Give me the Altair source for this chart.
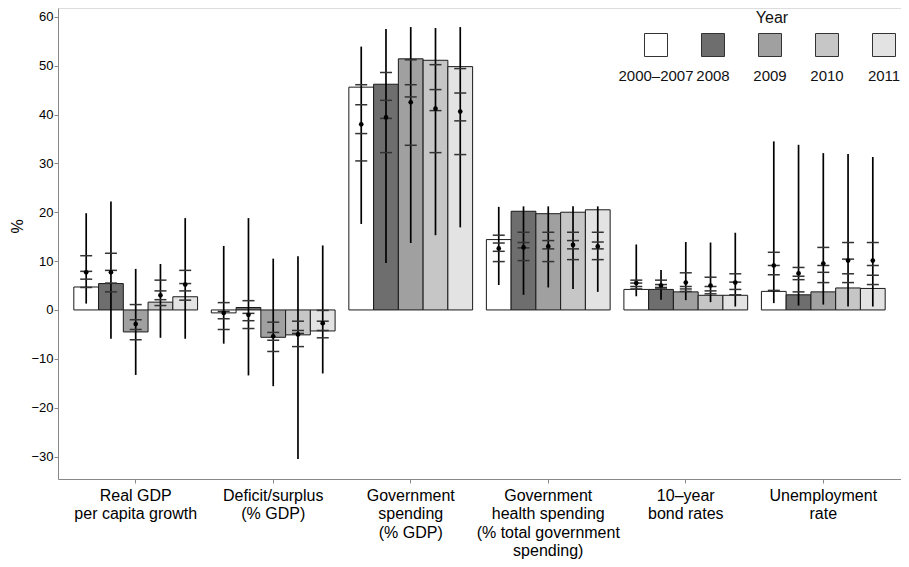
import altair as alt
import pandas as pd

FONT = "Liberation Sans, Arial, sans-serif"

categories = [
    "Real GDP|per capita growth",
    "Deficit/surplus|(% GDP)",
    "Government|spending|(% GDP)",
    "Government|health spending|(% total government|spending)",
    "10–year|bond rates",
    "Unemployment|rate",
]
years = ["2000–2007", "2008", "2009", "2010", "2011"]
colors = ["#ffffff", "#6e6e6e", "#a0a0a0", "#c6c6c6", "#e3e3e3"]

# bar heights per category, by year
bar_values = [
    [4.7, 5.4, -4.5, 1.6, 2.7],
    [-0.6, 0.5, -5.6, -5.1, -4.3],
    [45.6, 46.2, 51.4, 51.1, 49.8],
    [14.4, 20.2, 19.7, 20.0, 20.5],
    [4.2, 4.2, 3.7, 3.0, 3.0],
    [3.8, 3.1, 3.7, 4.5, 4.4],
]
mean_values = [
    [7.7, 7.7, -2.9, 3.0, 5.2],
    [-0.6, -1.0, -5.4, -5.0, -2.7],
    [38.0, 39.4, 42.5, 41.2, 40.6],
    [12.6, 12.8, 13.0, 13.3, 13.0],
    [5.5, 5.0, 5.6, 5.0, 5.6],
    [9.1, 7.5, 9.5, 10.1, 10.1],
]
range_low = [
    [1.3, -5.9, -13.3, -5.7, -5.9],
    [-6.9, -13.4, -15.6, -30.5, -13.0],
    [17.6, 9.6, 13.7, 15.3, 16.9],
    [5.1, 3.1, 4.6, 4.3, 3.7],
    [2.8, 2.1, 2.0, 1.6, 0.7],
    [1.4, 0.9, 1.1, 0.7, 0.7],
]
range_high = [
    [19.8, 22.2, 8.4, 9.4, 18.8],
    [13.1, 18.8, 10.5, 11.0, 13.2],
    [53.9, 57.5, 57.9, 57.7, 57.9],
    [21.1, 21.2, 21.2, 21.2, 21.2],
    [13.4, 8.2, 13.9, 13.8, 15.8],
    [34.5, 33.8, 32.1, 31.9, 31.3],
]
# horizontal tick marks on each error line
tick_values = [
    [[11.1, 7.9, 6.3, 4.6], [11.6, 8.1, 5.5, 3.7], [1.1, -2.0, -4.0, -6.1],
     [6.1, 3.9, 2.1, 0.9], [8.1, 5.4, 3.9, 2.0]],
    [[1.5, -0.3, -1.8, -4.0], [1.9, -0.7, -2.2, -3.8], [-2.5, -4.6, -6.2, -8.5],
     [-2.3, -4.2, -4.8, -7.5], [-0.1, -2.3, -4.2, -5.7]],
    [[46.1, 42.0, 36.1, 30.5], [48.6, 42.9, 39.2, 32.2], [51.2, 46.1, 43.6, 33.7],
     [50.2, 45.1, 40.8, 32.2], [49.4, 44.4, 38.7, 31.8]],
    [[15.3, 13.7, 12.0, 9.9], [15.9, 13.8, 12.7, 10.1], [15.9, 14.2, 12.5, 9.9],
     [15.9, 14.2, 12.5, 10.3], [15.9, 13.9, 12.5, 10.3]],
    [[6.1, 5.5, 4.8, 4.3], [6.1, 5.2, 4.6, 4.3], [7.6, 4.8, 4.3, 3.8],
     [6.7, 4.8, 3.9, 3.3], [7.4, 5.7, 4.2, 3.1]],
    [[11.8, 9.1, 7.2, 4.0], [8.7, 6.9, 6.2, 3.7], [12.8, 9.1, 7.7, 5.6],
     [13.8, 10.4, 7.4, 5.6], [13.8, 9.1, 7.1, 5.2]],
]
y_ticks = list(range(-30, 61, 5))

rows, trows = [], []
for ci, c in enumerate(categories):
    for yi, yr in enumerate(years):
        rows.append(dict(cat=c, year=yr, bar=bar_values[ci][yi], mean=mean_values[ci][yi],
                         lo=range_low[ci][yi], hi=range_high[ci][yi]))
        for t in tick_values[ci][yi]:
            trows.append(dict(cat=c, year=yr, t=t))
df = pd.DataFrame(rows)
tdf = pd.DataFrame(trows)
ldf = pd.DataFrame({"year": years})
title_df = pd.DataFrame({"t": ["Year"]})

yscale = alt.Scale(domain=[-34.6, 61.8], nice=False, zero=False)
fill_scale = alt.Scale(domain=years, range=colors)

X = alt.X("cat:N", sort=categories,
          scale=alt.Scale(paddingInner=0.1, paddingOuter=0.115),
          axis=alt.Axis(title=None, labelAngle=0, labelExpr="split(datum.label, '|')",
                        labelFontSize=16, labelLineHeight=18.5, labelLimit=0,
                        labelPadding=4, labelBaseline="top", tickSize=4))
XO = alt.XOffset("year:N", sort=years, scale=alt.Scale(paddingInner=0, paddingOuter=0))

bars = alt.Chart(df).mark_bar(stroke="#1a1a1a", strokeWidth=1).encode(
    x=X, xOffset=XO,
    y=alt.Y("bar:Q", scale=yscale,
            axis=alt.Axis(title="%", values=y_ticks, tickSize=4, labelPadding=1,
                          labelFontSize=13, titleFontSize=16, titleFontWeight="normal",
                          titleX=-41, titleY=218, titleBaseline="middle", grid=False)),
    y2=alt.Y2(datum=0),
    fill=alt.Fill("year:N", scale=fill_scale, legend=None),
)

rules = alt.Chart(df).mark_rule(color="#000000", strokeWidth=1.7).encode(
    x=X, xOffset=XO, y=alt.Y("lo:Q", scale=yscale), y2="hi:Q")

ticks = alt.Chart(tdf).mark_tick(orient="horizontal", size=12, thickness=1.5,
                                 color="#333333", opacity=1).encode(
    x=X, xOffset=XO, y=alt.Y("t:Q", scale=yscale))

points = alt.Chart(df).mark_point(filled=True, size=22, color="#000000", opacity=1).encode(
    x=X, xOffset=XO, y=alt.Y("mean:Q", scale=yscale))

main = alt.layer(bars, rules, ticks, points)

LX = alt.X("year:N", sort=years,
           scale=alt.Scale(type="point", domain=years, range=[598, 826], padding=0),
           axis=None)
leg_sq = alt.Chart(ldf).mark_square(size=529, stroke="#333333", strokeWidth=1, opacity=1).encode(
    x=LX, y=alt.value(37), fill=alt.Fill("year:N", scale=fill_scale, legend=None))
leg_txt = alt.Chart(ldf).mark_text(fontSize=15, font=FONT, baseline="middle",
                                   color="#111111").encode(
    x=LX, y=alt.value(68), text="year:N")
leg_title = alt.Chart(title_df).mark_text(fontSize=16, font=FONT, baseline="middle",
                                          color="#111111").encode(
    x=alt.value(714), y=alt.value(10), text="t:N")
legend = alt.layer(leg_sq, leg_txt, leg_title)

chart = alt.layer(main, legend).resolve_scale(
    x="independent"
).properties(
    width=843, height=471,
    autosize=alt.AutoSizeParams(type="none"),
    padding={"left": 50, "top": 0, "right": 0, "bottom": 85},
).configure_view(stroke=None).configure_axis(
    labelFont=FONT, titleFont=FONT, labelColor="#111111", titleColor="#111111",
    domainColor="#444444", domainWidth=1.5, tickColor="#444444", tickWidth=1.2,
).configure(background="white")

chart.save("out.html", embed_options={"renderer": "svg", "actions": False})
